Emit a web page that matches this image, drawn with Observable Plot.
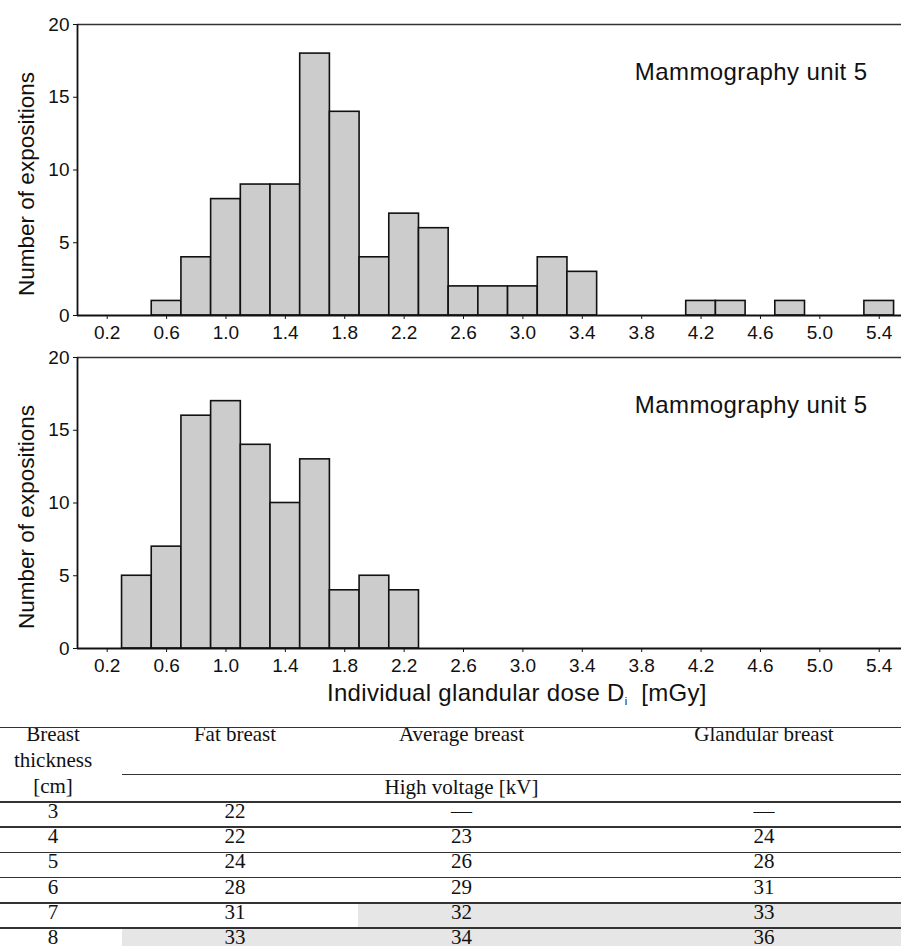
<!DOCTYPE html>
<html>
<head>
<meta charset="utf-8">
<script src="https://cdn.jsdelivr.net/npm/d3@7"></script>
<script src="https://cdn.jsdelivr.net/npm/@observablehq/plot@0.6"></script>
<style>
  html, body { margin: 0; padding: 0; background: #fff; }
  #page { position: relative; width: 901px; height: 946px; overflow: hidden; background: #fff; }
  .abs { position: absolute; white-space: nowrap; }
  #xlabel { font-family: "Liberation Sans", Arial, sans-serif; font-size: 24px; letter-spacing: 0.3px; line-height: 1; color: #111; }
  #xlabel .sub { font-size: 11px; position: relative; top: 4px; }
  .tcell { font-family: "Liberation Serif", "Times New Roman", serif; font-size: 21px; line-height: 1; color: #111; transform: translateX(-50%); }
  .tline { position: absolute; height: 1.5px; background: #333; }
  .tshade { position: absolute; background: #e6e6e6; }
  .lbl { letter-spacing: 0.3px; }
</style>
</head>
<body>
<div id="page">
  <div id="top" class="abs" style="left:0;top:0"></div>
  <div id="bottom" class="abs" style="left:0;top:335px"></div>
  <div id="xlabel" class="abs" style="left:327px;top:681px">Individual glandular dose D<span class="sub">i</span>&nbsp; [mGy]</div>
  <div id="table" class="abs" style="left:0;top:0;width:901px;height:946px"></div>
</div>
<script>
// ---------- data ----------
const xTicks = [0.2, 0.6, 1.0, 1.4, 1.8, 2.2, 2.6, 3.0, 3.4, 3.8, 4.2, 4.6, 5.0, 5.4];
const yTicks = [0, 5, 10, 15, 20];
const binWidth = 0.2;
const panelLabel = "Mammography unit 5";
const yTitle = "Number of expositions";

// upper histogram: bin lower edges and counts
const topBinStart = [0.5, 0.7, 0.9, 1.1, 1.3, 1.5, 1.7, 1.9, 2.1, 2.3, 2.5, 2.7, 2.9, 3.1, 3.3, 4.1, 4.3, 4.7, 5.3];
const topCounts   = [1,   4,   8,   9,   9,   18,  14,  4,   7,   6,   2,   2,   2,   4,   3,   1,   1,   1,   1];

// lower histogram
const bottomBinStart = [0.3, 0.5, 0.7, 0.9, 1.1, 1.3, 1.5, 1.7, 1.9, 2.1];
const bottomCounts   = [5,   7,   16,  17,  14,  10,  13,  4,   5,   4];

// table
const colHeaders = ["Fat breast", "Average breast", "Glandular breast"];
const rowHeaderLines = ["Breast", "thickness", "[cm]"];
const subHeader = "High voltage [kV]";
const thickness = ["3", "4", "5", "6", "7", "8"];
const fatKV     = ["22", "22", "24", "28", "31", "33"];
const averageKV = ["—", "23", "26", "29", "32", "34"];
const glandKV   = ["—", "24", "28", "31", "33", "36"];
const shadedFromCol = [null, null, null, null, 2, 1]; // first shaded column per row

// ---------- charts ----------
function histogram(binStart, counts, opts) {
  const data = binStart.map((s, i) => ({x1: s, x2: s + binWidth, y: counts[i]}));
  return Plot.plot({
    width: 901,
    height: opts.height,
    marginTop: opts.marginTop,
    marginBottom: opts.marginBottom,
    marginLeft: 77,
    marginRight: 0,
    style: {background: "transparent", fontFamily: "Liberation Sans, Arial, sans-serif", fontSize: "19px", color: "#111"},
    x: {domain: [0, 5.55], ticks: xTicks, tickFormat: d3.format(".1f"), tickSize: 4, tickPadding: 6, label: null},
    y: {domain: [0, 20], ticks: yTicks, tickSize: 4, tickPadding: 4, label: null},
    marks: [
      Plot.rectY(data, {x1: "x1", x2: "x2", y: "y", fill: "#cccccc", stroke: "#111", strokeWidth: 1.6}),
      Plot.ruleY([0], {stroke: "#111", strokeWidth: 1.8}),
      Plot.ruleY([20], {stroke: "#333", strokeWidth: 1.5}),
      Plot.ruleX([0], {stroke: "#111", strokeWidth: 1.8}),
      Plot.text([panelLabel], {frameAnchor: "top-right", textAnchor: "end", lineAnchor: "middle", dx: -34, dy: 48, fontSize: 24, className: "lbl"}),
      Plot.text([yTitle], {frameAnchor: "left", rotate: -90, textAnchor: "middle", lineAnchor: "middle", dx: -51, dy: 14, fontSize: 22.5})
    ]
  });
}

document.getElementById("top").append(histogram(topBinStart, topCounts, {height: 345, marginTop: 24, marginBottom: 30}));
document.getElementById("bottom").append(histogram(bottomBinStart, bottomCounts, {height: 345, marginTop: 22, marginBottom: 32}));
d3.selectAll("#page svg text").filter(function() { return this.textContent === panelLabel; }).style("letter-spacing", "0.4px");

// ---------- table ----------
const T = d3.select("#table");
const colCenters = [53, 235, 461.5, 764];
const colLeft = [0, 122, 358, 600];
const rowTop0 = 802, rowH = 25.2;
const fontAscent = 17.6; // baseline offset for 21px serif with line-height 1

function cell(text, cx, baseline) {
  T.append("div").attr("class", "abs tcell")
    .style("left", cx + "px").style("top", (baseline - fontAscent) + "px")
    .text(text);
}
function hline(y, x0, x1) {
  T.append("div").attr("class", "tline")
    .style("left", x0 + "px").style("width", (x1 - x0) + "px").style("top", (y - 0.75) + "px");
}

// shading
shadedFromCol.forEach((c, i) => {
  if (c == null) return;
  T.append("div").attr("class", "tshade")
    .style("left", colLeft[c] + "px").style("width", (901 - colLeft[c]) + "px")
    .style("top", (rowTop0 + rowH * i) + "px").style("height", rowH + "px");
});

// header
const headerBaselines = [742, 768, 794];
rowHeaderLines.forEach((t, i) => cell(t, colCenters[0], headerBaselines[i]));
colHeaders.forEach((t, i) => cell(t, colCenters[i + 1], 742));
cell(subHeader, colCenters[2], 795);

// rules
hline(727.7, 0, 901);
hline(774.3, 122, 901);
hline(rowTop0, 0, 901);

// body
thickness.forEach((t, i) => {
  const top = rowTop0 + rowH * i;
  const base = top + 16.5;
  cell(t, colCenters[0], base);
  cell(fatKV[i], colCenters[1], base);
  cell(averageKV[i], colCenters[2], base);
  cell(glandKV[i], colCenters[3], base);
  if (i < thickness.length - 1) hline(top + rowH, 0, 901);
});
</script>
</body>
</html>
